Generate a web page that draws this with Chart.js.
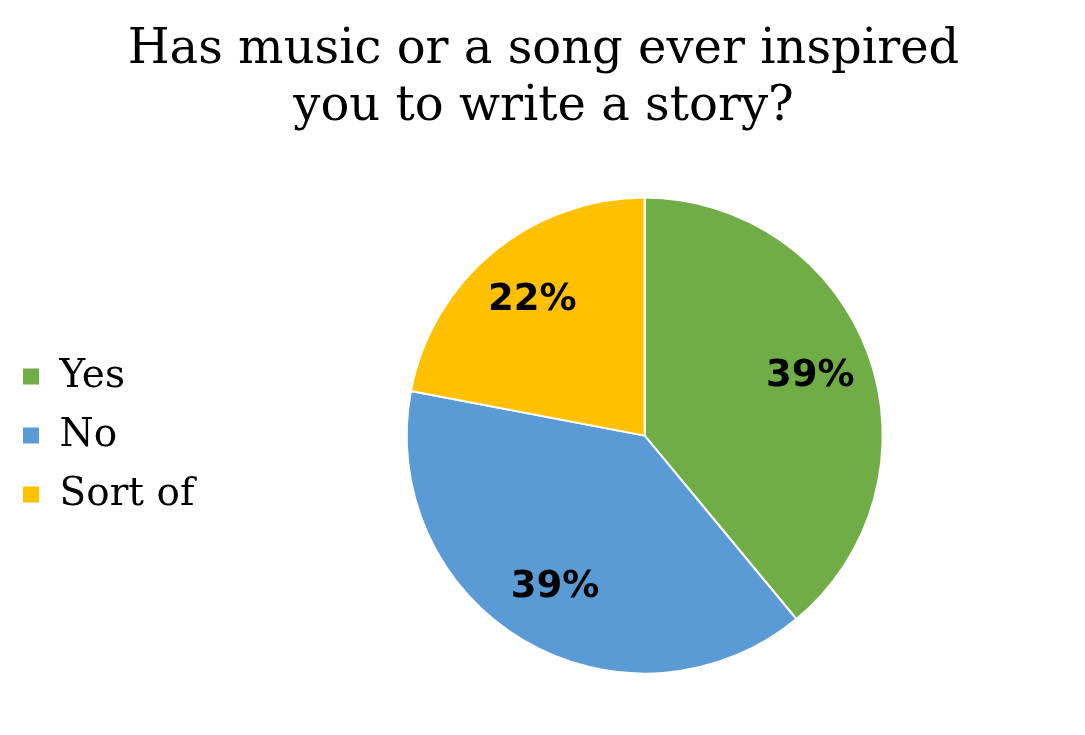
<!DOCTYPE html>
<html>
<head>
<meta charset="utf-8">
<script src="https://cdn.jsdelivr.net/npm/chart.js@4.4.1/dist/chart.umd.min.js"></script>
<style>
    html, body { margin: 0; padding: 0; background: #fff; }
    #wrap { width: 1085px; height: 735px; }
</style>
</head>
<body>
<div id="wrap"><canvas id="pieChart"></canvas></div>
<script>
// datos del grafico
const categories = ["Yes", "No", "Sort of"];
const percentages = [39, 39, 22];
const sliceColors = ["#70AD47", "#5B9BD5", "#FFC000"];
const titleLines = ["Has music or a song ever inspired", "you to write a story?"];

// etiquetas de porcentaje dentro de cada porcion
const pieLabels = {
    id: "pieLabels",
    afterDatasetsDraw(chart) {
        const ctx = chart.ctx;
        const meta = chart.getDatasetMeta(0);
        ctx.save();
        ctx.font = "bold 37px 'DejaVu Sans'";
        ctx.fillStyle = "#000";
        ctx.textAlign = "center";
        ctx.textBaseline = "middle";
        meta.data.forEach((arc, i) => {
            const p = arc.getProps(["x", "y", "startAngle", "endAngle", "outerRadius"], true);
            const mid = (p.startAngle + p.endAngle) / 2;
            const r = p.outerRadius * 0.74;
            ctx.fillText(percentages[i] + "%", p.x + Math.cos(mid) * r, p.y + Math.sin(mid) * r);
        });
        ctx.restore();
    }
};

const ctx = document.getElementById("pieChart").getContext("2d");
new Chart(ctx, {
    type: "pie",
    data: {
        labels: categories,
        datasets: [{
            data: percentages,
            backgroundColor: sliceColors,
            borderColor: "#ffffff",
            borderWidth: 2
        }]
    },
    options: {
        responsive: true,
        maintainAspectRatio: false,
        animation: false,
        radius: 238,
        layout: { padding: { left: 2, right: 0, top: 0, bottom: 0 } },
        plugins: {
            title: {
                display: true,
                text: titleLines,
                color: "#000",
                font: { family: "'DejaVu Serif'", size: 48, weight: "normal", lineHeight: 1.19 },
                padding: { top: 22, bottom: 0 }
            },
            legend: {
                position: "left",
                fullSize: false,
                labels: {
                    color: "#000",
                    boxWidth: 18,
                    boxHeight: 18,
                    padding: 20,
                    font: { family: "'DejaVu Serif'", size: 39 }
                }
            },
            tooltip: { enabled: false }
        }
    },
    plugins: [pieLabels]
});
</script>
</body>
</html>
